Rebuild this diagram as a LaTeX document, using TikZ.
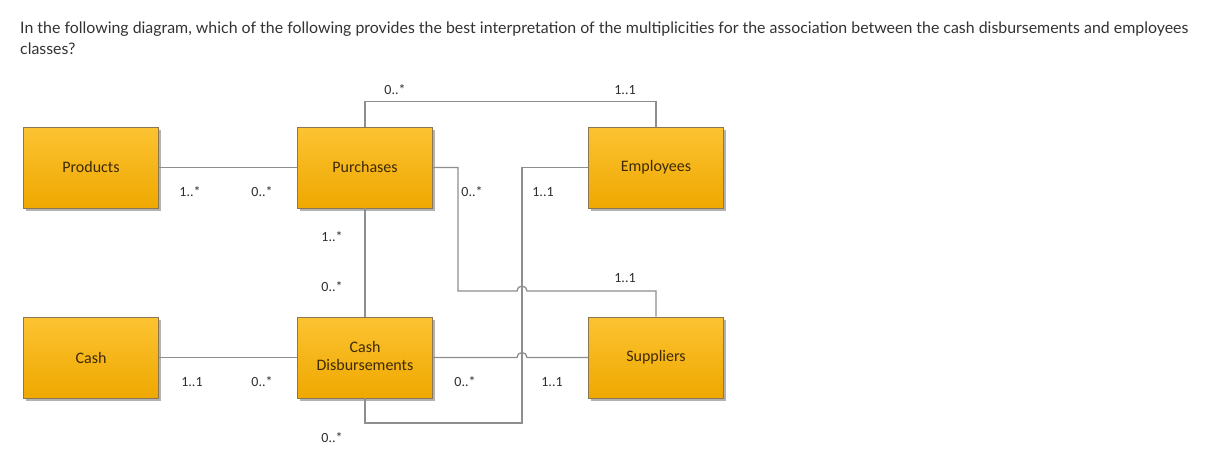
\documentclass[tikz,border=0pt]{standalone}
\usepackage{fontspec}
\setmainfont{Lato}
\newfontfamily\diagfont{Carlito}
\usetikzlibrary{shadows}
\definecolor{boxtop}{HTML}{FCC332}
\definecolor{boxbot}{HTML}{EFA800}
\definecolor{boxline}{HTML}{8A7650}
\definecolor{boxtext}{HTML}{3D2A05}
\definecolor{conn}{HTML}{8E8E8E}
\definecolor{qtext}{HTML}{333333}
\definecolor{multtext}{HTML}{2E2E2E}
\begin{document}
\begin{tikzpicture}[x=1pt,y=-1pt,
  classbox/.style={draw=boxline, line width=0.8pt, top color=boxtop, bottom color=boxbot,
    minimum width=135pt, minimum height=81pt, inner sep=0pt, align=center,
    font=\diagfont\fontsize{16}{20}\selectfont, text=boxtext,
    drop shadow={shadow xshift=2.5pt, shadow yshift=-2.5pt, fill=black, opacity=0.3}},
  conline/.style={draw=conn, line width=1.3pt},
  mult/.style={font=\diagfont\fontsize{14}{16}\selectfont, text=multtext, inner sep=0pt},
  question/.style={font=\fontsize{15.9}{18}\selectfont, text=qtext, inner sep=0pt, anchor=base west}]
\useasboundingbox (0,0) rectangle (1220,460);
\fill[white] (0,0) rectangle (1220,460);

\node[question] (q1) at (20,34) {In the following diagram, which of the following provides the best interpretation of the multiplicities for the association between the cash disbursements and employees};
\node[question] (q2) at (20,55) {classes?};

\node[classbox] (prod) at (91,167.5) {Products};
\node[classbox] (purch) at (365,167.5) {Purchases};
\node[classbox] (emp) at (656,167.5) {\raisebox{-1.5pt}{Employees}};
\node[classbox] (cash) at (91,357.5) {Cash};
\node[classbox] (cd) at (365,357.5) {\raisebox{2pt}{\begin{tabular}{@{}c@{}}Cash\\[-2pt]Disbursements\end{tabular}}};
\node[classbox] (sup) at (656,357.5) {\raisebox{-1.5pt}{Suppliers}};

\coordinate (topL) at (365,101.5);
\coordinate (topR) at (656,101.5);
\coordinate (pr1) at (458,167.5);
\coordinate (pr2) at (458,291);
\coordinate (hop1a) at (517,291);
\coordinate (pr3) at (656,291);
\coordinate (em1) at (522,167.5);
\coordinate (em2) at (522,423);
\coordinate (em3) at (365,423);
\coordinate (hop2a) at (517,357.5);

\draw[conline] (prod) -- (purch);
\draw[conline] (cash) -- (cd);
\draw[conline] (purch) -- (cd);
\draw[conline] (purch.north) -- (topL) -- (topR) -- (emp.north);
\draw[conline] (purch.east) -- (pr1) -- (pr2) -- (hop1a) arc[start angle=180, end angle=0, radius=5pt] -- (pr3) -- (sup.north);
\draw[conline] (emp.west) -- (em1) -- (em2) -- (em3) -- (cd.south);
\draw[conline] (cd.east) -- (hop2a) arc[start angle=180, end angle=0, radius=5pt] -- (sup.west);

\node[mult] (m1) at (395,90) {0..*};
\node[mult] (m2) at (625,90) {1..1};
\node[mult] (m3) at (190,192) {1..*};
\node[mult] (m4) at (262,192) {0..*};
\node[mult] (m5) at (472,192) {0..*};
\node[mult] (m6) at (543,192) {1..1};
\node[mult] (m7) at (332,237) {1..*};
\node[mult] (m8) at (332,287) {0..*};
\node[mult] (m9) at (625,278) {1..1};
\node[mult] (m10) at (192,382) {1..1};
\node[mult] (m11) at (262,382) {0..*};
\node[mult] (m12) at (465,382) {0..*};
\node[mult] (m13) at (552,382) {1..1};
\node[mult] (m14) at (332,438) {0..*};
\end{tikzpicture}
\end{document}
